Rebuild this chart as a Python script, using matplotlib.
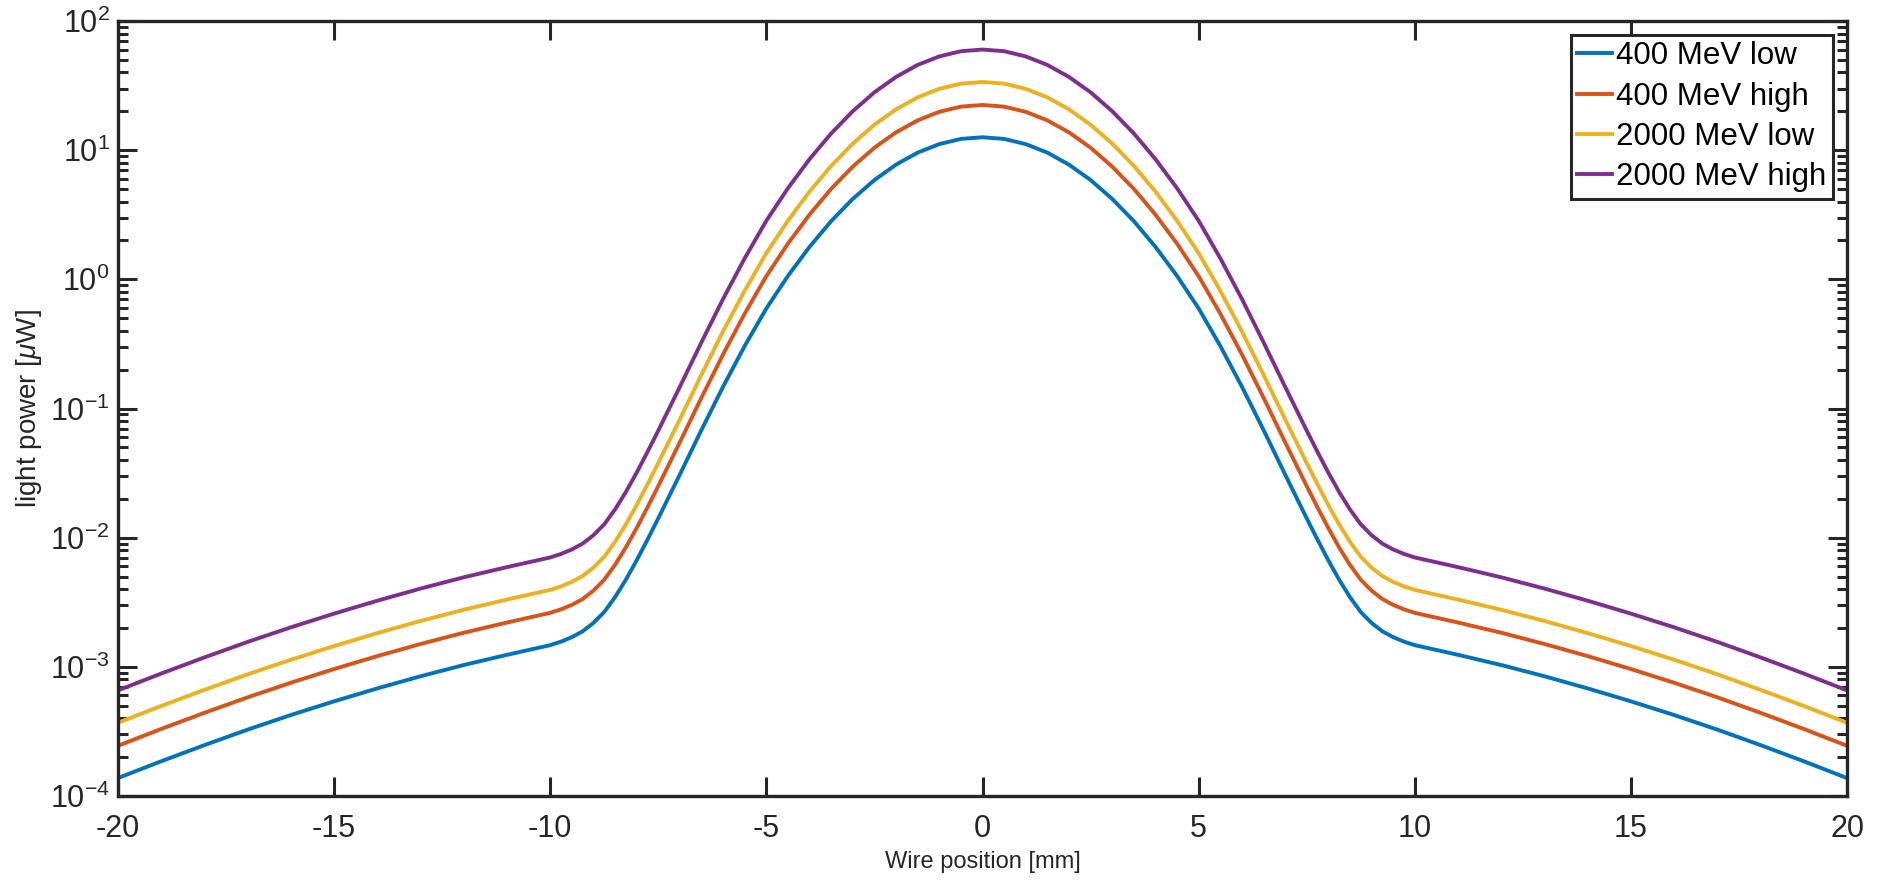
import numpy as np
import matplotlib
matplotlib.use("Agg")
import matplotlib.pyplot as plt
from matplotlib.ticker import FixedLocator, NullFormatter, MultipleLocator

# wire position [mm]
wire_pos = [-20, -19, -18, -17, -16, -15, -14, -13, -12, -11,
            -10, -9.75, -9.5, -9.25, -9, -8.75, -8.5, -8.25, -8, -7.75,
            -7.5, -7, -6.5, -6, -5.5, -5, -4.5, -4, -3.5, -3,
            -2.5, -2, -1.5, -1, -0.5,
            0,
            0.5, 1, 1.5, 2, 2.5,
            3, 3.5, 4, 4.5, 5, 5.5, 6, 6.5, 7, 7.5,
            7.75, 8, 8.25, 8.5, 8.75, 9, 9.25, 9.5, 9.75, 10,
            11, 12, 13, 14, 15, 16, 17, 18, 19, 20]

# light power [uW]
p400_low = [1.377e-4, 1.858e-4, 2.477e-4, 3.266e-4, 4.236e-4, 5.408e-4, 6.808e-4, 8.453e-4, 1.033e-3, 1.239e-3,
            1.472e-3, 1.567e-3, 1.698e-3, 1.884e-3, 2.188e-3, 2.661e-3, 3.467e-3, 4.732e-3, 6.683e-3, 9.661e-3,
            1.413e-2, 3.090e-2, 6.839e-2, 0.1479, 0.3055, 0.5957, 1.064, 1.786, 2.825, 4.198,
            5.875, 7.727, 9.572, 11.14, 12.22,
            12.59,
            12.22, 11.14, 9.572, 7.727, 5.875,
            4.198, 2.825, 1.786, 1.064, 0.5957, 0.3055, 0.1479, 6.839e-2, 3.090e-2, 1.413e-2,
            9.661e-3, 6.683e-3, 4.732e-3, 3.467e-3, 2.661e-3, 2.188e-3, 1.884e-3, 1.698e-3, 1.567e-3, 1.472e-3,
            1.239e-3, 1.033e-3, 8.453e-4, 6.808e-4, 5.408e-4, 4.236e-4, 3.266e-4, 2.477e-4, 1.858e-4, 1.377e-4]

p400_high = [2.449e-4, 3.304e-4, 4.405e-4, 5.808e-4, 7.533e-4, 9.617e-4, 1.211e-3, 1.503e-3, 1.837e-3, 2.203e-3,
             2.618e-3, 2.787e-3, 3.020e-3, 3.350e-3, 3.891e-3, 4.732e-3, 6.165e-3, 8.415e-3, 1.188e-2, 1.718e-2,
             2.513e-2, 5.495e-2, 0.1216, 0.2630, 0.5433, 1.059, 1.892, 3.176, 5.024, 7.465,
             10.45, 13.74, 17.02, 19.81, 21.73,
             22.39,
             21.73, 19.81, 17.02, 13.74, 10.45,
             7.465, 5.024, 3.176, 1.892, 1.059, 0.5433, 0.2630, 0.1216, 5.495e-2, 2.513e-2,
             1.718e-2, 1.188e-2, 8.415e-3, 6.165e-3, 4.732e-3, 3.891e-3, 3.350e-3, 3.020e-3, 2.787e-3, 2.618e-3,
             2.203e-3, 1.837e-3, 1.503e-3, 1.211e-3, 9.617e-4, 7.533e-4, 5.808e-4, 4.405e-4, 3.304e-4, 2.449e-4]

p2000_low = [3.689e-4, 4.978e-4, 6.636e-4, 8.750e-4, 1.135e-3, 1.449e-3, 1.824e-3, 2.265e-3, 2.767e-3, 3.319e-3,
             3.943e-3, 4.198e-3, 4.549e-3, 5.047e-3, 5.862e-3, 7.129e-3, 9.288e-3, 1.268e-2, 1.790e-2, 2.588e-2,
             3.785e-2, 8.278e-2, 0.1832, 0.3962, 0.8184, 1.596, 2.850, 4.785, 7.568, 11.25,
             15.74, 20.70, 25.64, 29.84, 32.74,
             33.73,
             32.74, 29.84, 25.64, 20.70, 15.74,
             11.25, 7.568, 4.785, 2.850, 1.596, 0.8184, 0.3962, 0.1832, 8.278e-2, 3.785e-2,
             2.588e-2, 1.790e-2, 1.268e-2, 9.288e-3, 7.129e-3, 5.862e-3, 5.047e-3, 4.549e-3, 4.198e-3, 3.943e-3,
             3.319e-3, 2.767e-3, 2.265e-3, 1.824e-3, 1.449e-3, 1.135e-3, 8.750e-4, 6.636e-4, 4.978e-4, 3.689e-4]

p2000_high = [6.575e-4, 8.872e-4, 1.183e-3, 1.560e-3, 2.023e-3, 2.582e-3, 3.251e-3, 4.036e-3, 4.933e-3, 5.916e-3,
              7.029e-3, 7.482e-3, 8.108e-3, 8.996e-3, 1.045e-2, 1.271e-2, 1.656e-2, 2.260e-2, 3.191e-2, 4.613e-2,
              6.747e-2, 0.1476, 0.3266, 0.7062, 1.459, 2.845, 5.081, 8.528, 13.49, 20.05,
              28.05, 36.90, 45.71, 53.19, 58.35,
              60.12,
              58.35, 53.19, 45.71, 36.90, 28.05,
              20.05, 13.49, 8.528, 5.081, 2.845, 1.459, 0.7062, 0.3266, 0.1476, 6.747e-2,
              4.613e-2, 3.191e-2, 2.260e-2, 1.656e-2, 1.271e-2, 1.045e-2, 8.996e-3, 8.108e-3, 7.482e-3, 7.029e-3,
              5.916e-3, 4.933e-3, 4.036e-3, 3.251e-3, 2.582e-3, 2.023e-3, 1.560e-3, 1.183e-3, 8.872e-4, 6.575e-4]

labels = ["400 MeV low", "400 MeV high", "2000 MeV low", "2000 MeV high"]
colors = ["#0072BD", "#D95319", "#EDB120", "#7E2F8E"]

plt.rcParams["font.family"] = ["Liberation Sans", "DejaVu Sans"]
plt.rcParams["mathtext.fontset"] = "custom"
plt.rcParams["mathtext.rm"] = "Liberation Sans"
plt.rcParams["mathtext.it"] = "Liberation Sans:italic"
plt.rcParams["axes.unicode_minus"] = False

axis_col = "#262626"

fig = plt.figure(figsize=(18.77, 8.90), dpi=100)
ax = fig.add_axes([118 / 1877, 1 - 796 / 890, 1729 / 1877, 775 / 890])

for y, lab, c in zip([p400_low, p400_high, p2000_low, p2000_high], labels, colors):
    ax.plot(wire_pos, y, color=c, lw=2.8, label=lab)

ax.set_yscale("log")
ax.set_xlim(-20, 20)
ax.set_ylim(1e-4, 1e2)
ax.xaxis.set_major_locator(MultipleLocator(5))
decades = [1e-4, 1e-3, 1e-2, 1e-1, 1e0, 1e1, 1e2]
ax.yaxis.set_major_locator(FixedLocator(decades))
ax.yaxis.set_minor_locator(FixedLocator([d * k for d in decades[:-1] for k in range(2, 10)]))
ax.yaxis.set_minor_formatter(NullFormatter())

ax.tick_params(which="both", direction="in", top=True, right=True, colors=axis_col,
               labelcolor=axis_col, labelsize=22)
ax.tick_params(which="major", length=14, width=2.2)
ax.tick_params(which="minor", length=7.5, width=2.2)
ax.tick_params(axis="x", pad=13)
ax.tick_params(axis="y", pad=6)
for s in ax.spines.values():
    s.set_linewidth(2.4)
    s.set_color(axis_col)

ax.set_xlabel("Wire position [mm]", fontsize=17, color=axis_col, labelpad=5)
ax.set_ylabel(r"light power [$\mu$W]", fontsize=20, color=axis_col, labelpad=4)

leg = ax.legend(loc="upper right", fontsize=22.5, handlelength=1.1, handletextpad=0.15,
                labelspacing=0.33, borderpad=0.2, borderaxespad=0.45, fancybox=False,
                framealpha=1)
leg.get_frame().set_edgecolor(axis_col)
leg.get_frame().set_linewidth(2.2)

fig.savefig("out.png", dpi=100)
